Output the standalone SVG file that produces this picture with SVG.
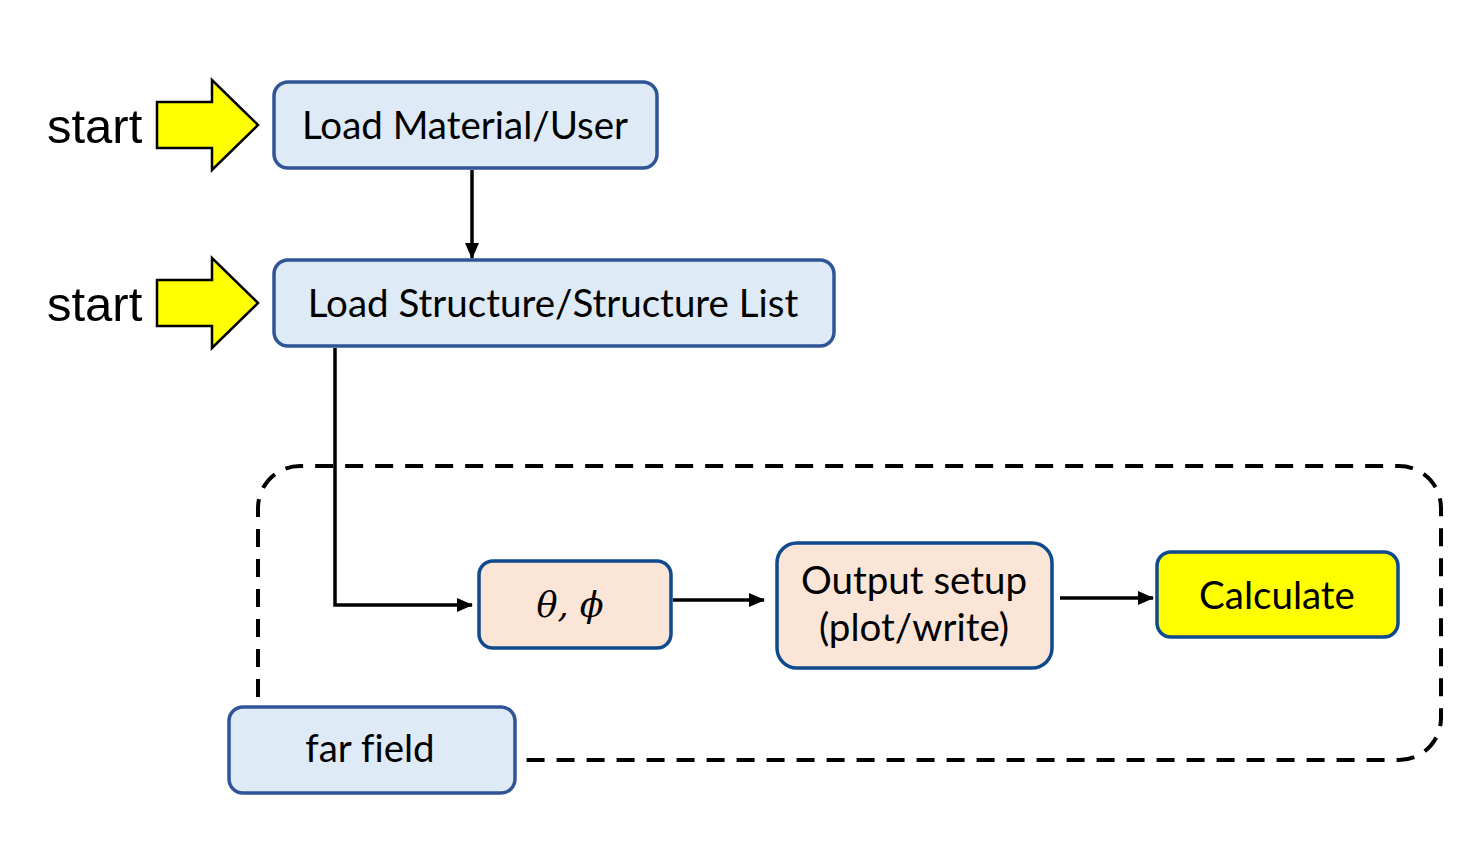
<svg xmlns="http://www.w3.org/2000/svg" width="1479" height="852" viewBox="0 0 1479 852">
<defs>
<marker id="ah" markerWidth="16" markerHeight="14" refX="15" refY="7" orient="auto" markerUnits="userSpaceOnUse">
<path d="M0,0 L16,7 L0,14 Z" fill="#000"/>
</marker>
<style>
.blue{fill:#deebf7;stroke:#2f5597;stroke-width:3.5}
.peach{fill:#fbe5d6;stroke:#0e4a8c;stroke-width:3.5}
.yel{fill:#ffff00;stroke:#0e4a8c;stroke-width:3.5}
.bx{font-family:Lato,"Open Sans",sans-serif;font-size:38.5px;fill:#000;text-anchor:middle;font-variant-ligatures:none}
.st{font-family:"Liberation Sans",Arial,sans-serif;font-size:49px;fill:#000}
.sarrow{fill:#ffff00;stroke:#000;stroke-width:2.5}
.con{fill:none;stroke:#000;stroke-width:3.5}
.dash{fill:none;stroke:#000;stroke-width:4;stroke-dasharray:18 12}
</style>
</defs>
<rect width="1479" height="852" fill="#fff"/>
<g id="loop">
<path class="dash" d="M258,697 V508 A42,42 0 0 1 300,466 H1399 A42,42 0 0 1 1441,508 V718 A42,42 0 0 1 1399,760 H524"/>
</g>
<g id="start1">
<text class="st" x="47" y="143">start</text>
<path class="sarrow" d="M157,102 H212 V80 L258,125 L212,170 V148 H157 Z"/>
</g>
<g id="start2">
<text class="st" x="47" y="321">start</text>
<path class="sarrow" d="M157,280 H212 V258 L258,303 L212,348 V326 H157 Z"/>
</g>
<g id="connectors">
<path class="con" d="M472,170 V258" marker-end="url(#ah)"/>
<path class="con" d="M335,348 V605 H472" marker-end="url(#ah)"/>
<path class="con" d="M673,600 H764" marker-end="url(#ah)"/>
<path class="con" d="M1060,598 H1153" marker-end="url(#ah)"/>
</g>
<g id="loadMaterial">
<rect class="blue" x="274" y="82" width="383" height="86" rx="14"/>
<text class="bx" x="465" y="139">Load Material/User</text>
</g>
<g id="loadStructure">
<rect class="blue" x="274" y="260" width="560" height="86" rx="14"/>
<text class="bx" x="553" y="317">Load Structure/Structure List</text>
</g>
<g id="angles">
<rect class="peach" x="479" y="561" width="192" height="87" rx="14"/>
<text x="570" y="617" font-family="'DejaVu Serif',serif" font-style="italic" font-size="35" text-anchor="middle">θ, ϕ</text>
</g>
<g id="output">
<rect class="peach" x="777" y="543" width="275" height="125" rx="20"/>
<text class="bx" x="914" y="594">Output setup</text>
<text class="bx" x="914" y="641">(plot/write)</text>
</g>
<g id="calculate">
<rect class="yel" x="1157" y="552" width="241" height="85" rx="14"/>
<text class="bx" x="1277" y="609">Calculate</text>
</g>
<g id="farfield">
<rect class="blue" x="229" y="707" width="286" height="86" rx="14"/>
<text class="bx" x="370" y="762">far field</text>
</g>
</svg>
